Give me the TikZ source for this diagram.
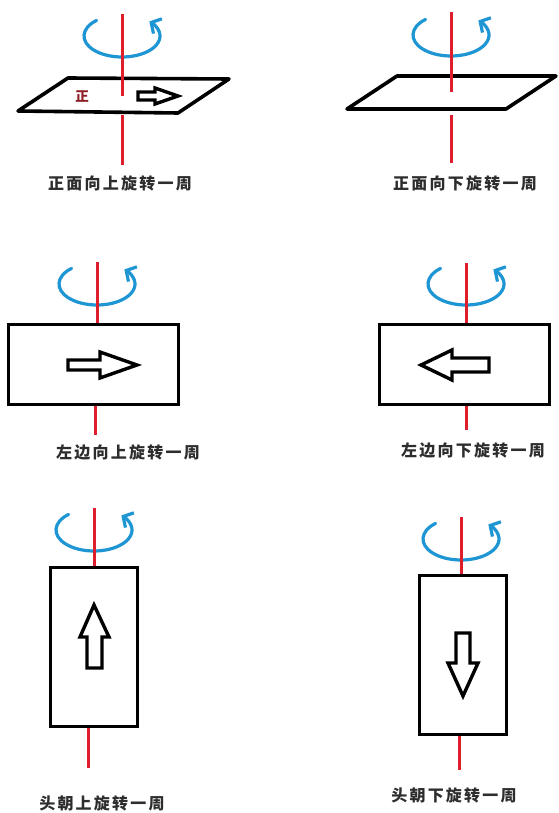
\documentclass[tikz,border=0pt]{standalone}
\usepackage{fontspec}
\newfontfamily\cjk[LetterSpace=14]{Noto Sans CJK SC}
\usetikzlibrary{arrows.meta}
\definecolor{axisred}{RGB}{222,30,45}
\definecolor{rotblue}{RGB}{30,150,212}
\definecolor{txtgray}{RGB}{45,45,45}
\definecolor{markred}{RGB}{140,30,35}
\tikzset{
  axisline/.style={draw=axisred,line width=3pt},
  plate/.style={draw=black,line width=3.6pt,line join=round,fill=white},
  blockarrow/.style={draw=black,line width=3.4pt,line join=miter,fill=white},
  caption/.style={font=\cjk\fontsize{16}{18}\selectfont\bfseries,text=txtgray,inner sep=0pt},
  rotarc/.style={draw=rotblue,line width=3.2pt,line cap=round,-{Straight Barb[length=7.5pt,width=17pt]}},
  rot/.pic={\draw[rotarc] (228:38 and 21) arc[start angle=228,end angle=-44,x radius=38,y radius=21];}
}
\begin{document}
\begin{tikzpicture}[x=1pt,y=-1pt]
\useasboundingbox[fill=white] (0,0) rectangle (558,813);
% ---------- panel 1 ----------
\draw[plate] (68,78) -- (229,79) -- (178,113) -- (18,111) -- cycle;
\node[font=\cjk\fontsize{13.5}{14}\selectfont\bfseries,text=markred] (zheng) at (82,97) {正};
\draw[blockarrow] (138,92) -- (155,92) -- (155,88) -- (178,96) -- (155,104) -- (155,100) -- (138,100) -- cycle;
\pic at (122,36) {rot};
\coordinate (a1t) at (122,14); \coordinate (a1m) at (122,96);
\coordinate (a1b) at (122,115); \coordinate (a1e) at (122,165);
\draw[axisline] (a1t) -- (a1m); \draw[axisline] (a1b) -- (a1e);
\node[caption] (l1) at (120,183) {正面向上旋转一周};
% ---------- panel 2 ----------
\draw[plate] (397,76) -- (556,76) -- (506,109) -- (347,109) -- cycle;
\pic at (451,35) {rot};
\coordinate (a2t) at (451,12); \coordinate (a2m) at (451,92);
\coordinate (a2b) at (451,115); \coordinate (a2e) at (451,163);
\draw[axisline] (a2t) -- (a2m); \draw[axisline] (a2b) -- (a2e);
\node[caption] (l2) at (465,183) {正面向下旋转一周};
% ---------- panel 3 ----------
\node[draw=black,line width=3pt,minimum width=170pt,minimum height=80pt,inner sep=0pt] (r3) at (93,364) {};
\draw[blockarrow] (68,360) -- (100,360) -- (100,352) -- (137,365) -- (100,378) -- (100,370) -- (68,370) -- cycle;
\pic at (97,284) {rot};
\coordinate (a3t) at (97,262); \coordinate (a3b) at (95,435);
\draw[axisline] (a3t) -- (r3.north -| a3t); \draw[axisline] (r3.south -| a3b) -- (a3b);
\node[caption] (l3) at (128,452) {左边向上旋转一周};
% ---------- panel 4 ----------
\node[draw=black,line width=3pt,minimum width=170pt,minimum height=80pt,inner sep=0pt] (r4) at (464,364) {};
\draw[blockarrow] (421,365) -- (452,350) -- (452,358) -- (489,358) -- (489,372) -- (452,372) -- (452,380) -- cycle;
\pic at (466,284) {rot};
\coordinate (a4t) at (466,263); \coordinate (a4b) at (466,430);
\draw[axisline] (a4t) -- (r4.north -| a4t); \draw[axisline] (r4.south -| a4b) -- (a4b);
\node[caption] (l4) at (473,450) {左边向下旋转一周};
% ---------- panel 5 ----------
\node[draw=black,line width=3pt,minimum width=87pt,minimum height=159pt,inner sep=0pt] (r5) at (93.5,646.5) {};
\draw[blockarrow] (94,605) -- (109,637) -- (102,637) -- (102,668) -- (87,668) -- (87,637) -- (80,637) -- cycle;
\pic at (94,530) {rot};
\coordinate (a5t) at (94,508); \coordinate (a5b) at (88,768);
\draw[axisline] (a5t) -- (r5.north -| a5t); \draw[axisline] (r5.south -| a5b) -- (a5b);
\node[caption] (l5) at (102,803) {头朝上旋转一周};
% ---------- panel 6 ----------
\node[draw=black,line width=3pt,minimum width=87pt,minimum height=159pt,inner sep=0pt] (r6) at (462.5,654.5) {};
\draw[blockarrow] (456,633) -- (470,633) -- (470,663) -- (478,663) -- (463,696) -- (448,663) -- (456,663) -- cycle;
\pic at (461,539) {rot};
\coordinate (a6t) at (461,517); \coordinate (a6b) at (459,770);
\draw[axisline] (a6t) -- (r6.north -| a6t); \draw[axisline] (r6.south -| a6b) -- (a6b);
\node[caption] (l6) at (454,795) {头朝下旋转一周};
\end{tikzpicture}
\end{document}
